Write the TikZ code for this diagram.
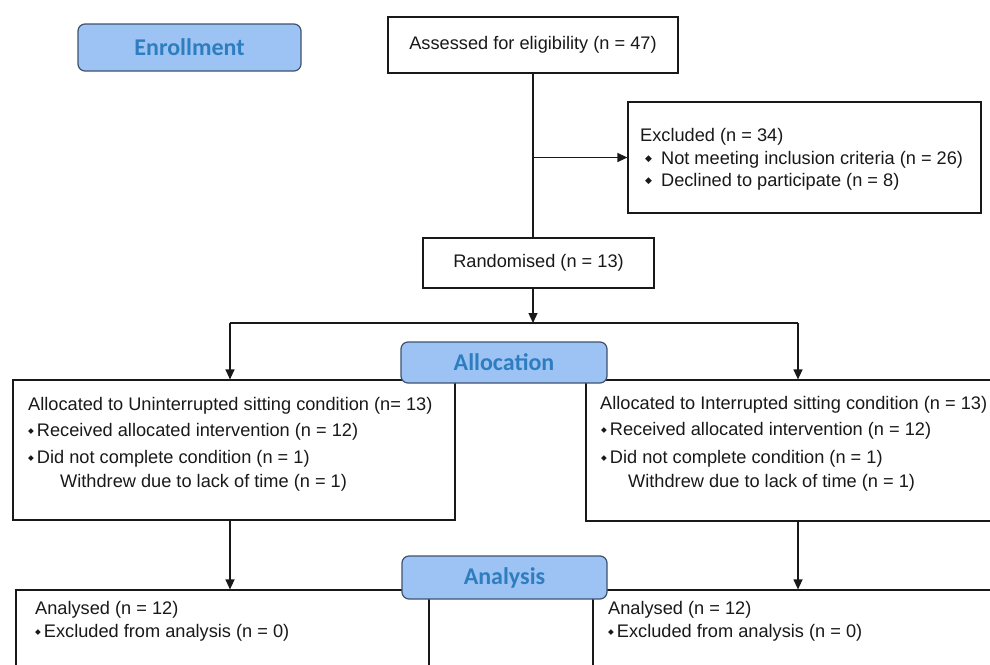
\documentclass[tikz,border=0pt]{standalone}
\usepackage{fontspec}
\setmainfont{Liberation Sans}
\newfontfamily\hdrfont{Carlito}
\newfontfamily\bulfont{DejaVu Sans}
\usetikzlibrary{arrows.meta}
\definecolor{phfill}{RGB}{157,195,245}
\definecolor{phtext}{RGB}{46,125,190}
\definecolor{phdraw}{RGB}{62,82,112}
\definecolor{ink}{RGB}{25,25,25}
\newcommand{\smbul}{\raisebox{3.2pt}{\bulfont\fontsize{7.5}{7.5}\selectfont ◆}\hspace{3pt}}
\newcommand{\bigbul}{\raisebox{3pt}{\bulfont\fontsize{9}{9}\selectfont ◆}\hspace{9pt}}
\begin{document}
\begin{tikzpicture}[x=1pt,y=-1pt,
 box/.style={draw=ink, line width=1.2pt, fill=white, rectangle, inner sep=0pt, text=ink, font=\fontsize{18.2}{22}\selectfont},
 phase/.style={draw=phdraw, fill=phfill, rounded corners=7pt, line width=1.2pt, text=phtext, inner sep=0pt, font=\hdrfont\bfseries\fontsize{24}{28}\selectfont},
 txt/.style={anchor=west, inner sep=0pt, text=ink, font=\fontsize{18.2}{22}\selectfont},
 conn/.style={draw=ink, line width=1.2pt},
 arr/.style={conn, -{Triangle[length=10pt,width=9pt]}}]
\useasboundingbox (0,0) rectangle (990,664);
\clip (0,0) rectangle (990,664);
\fill[white] (0,0) rectangle (990,664);

% boxes
\node[box, minimum width=290pt, minimum height=56pt] (assess) at (533,45) {Assessed for eligibility (n = 47)};
\node[box, minimum width=353pt, minimum height=111pt] (excl) at (804.5,157.5) {};
\node[box, minimum width=231pt, minimum height=50pt] (rand) at (538.5,263) {Randomised (n = 13)};
\node[box, minimum width=442pt, minimum height=140pt] (allocL) at (234,450) {};
\node[box, minimum width=424pt, minimum height=141pt] (allocR) at (798,450.5) {};
\node[box, minimum width=413pt, minimum height=120pt] (anaL) at (222.5,650) {};
\node[box, minimum width=417pt, minimum height=120pt] (anaR) at (801.5,650) {};

% junction points
\coordinate (branch) at (533,157.5);
\coordinate (split) at (533,323);
\coordinate (splitL) at (230,323);
\coordinate (splitR) at (798,323);

% connectors
\draw[conn] (assess.south) -- (assess.south |- rand.north);
\draw[arr] (branch) -- (excl.west);
\draw[arr] (rand.south -| split) -- (split);
\draw[conn] (splitL) -- (splitR);
\draw[arr] (splitL) -- (splitL |- allocL.north);
\draw[arr] (splitR) -- (splitR |- allocR.north);
\draw[arr] (allocL.south -| splitL) -- (splitL |- anaL.north);
\draw[arr] (allocR.south -| splitR) -- (splitR |- anaR.north);

% phase labels
\node[phase, minimum width=223pt, minimum height=47pt] (enroll) at (189.5,47.5) {Enrollment};
\node[phase, minimum width=206pt, minimum height=41pt] (alloc) at (504,362.5) {Allocation};
\node[phase, minimum width=205pt, minimum height=43pt] (anal) at (504.5,577.5) {Analysis};

% excluded text
\node[txt] (ex1) at (640,137) {Excluded (n = 34)};
\node[txt] (ex2) at (645,160) {\bigbul Not meeting inclusion criteria (n = 26)};
\node[txt] (ex3) at (645,182) {\bigbul Declined to participate (n = 8)};

% allocation left
\node[txt] (al1) at (28,406) {Allocated to Uninterrupted sitting condition (n= 13)};
\node[txt] (al2) at (28,432) {\smbul Received allocated intervention (n = 12)};
\node[txt] (al3) at (28,459) {\smbul Did not complete condition (n = 1)};
\node[txt] (al4) at (60,483) {Withdrew due to lack of time (n = 1)};

% allocation right
\node[txt] (ar1) at (600,405) {Allocated to Interrupted sitting condition (n = 13)};
\node[txt] (ar2) at (601,431) {\smbul Received allocated intervention (n = 12)};
\node[txt] (ar3) at (601,459) {\smbul Did not complete condition (n = 1)};
\node[txt] (ar4) at (628,483) {Withdrew due to lack of time (n = 1)};

% analysis
\node[txt] (nl1) at (35,610) {Analysed (n = 12)};
\node[txt] (nl2) at (35,633) {\smbul Excluded from analysis (n = 0)};
\node[txt] (nr1) at (608,610) {Analysed (n = 12)};
\node[txt] (nr2) at (608,633) {\smbul Excluded from analysis (n = 0)};
\end{tikzpicture}
\end{document}
